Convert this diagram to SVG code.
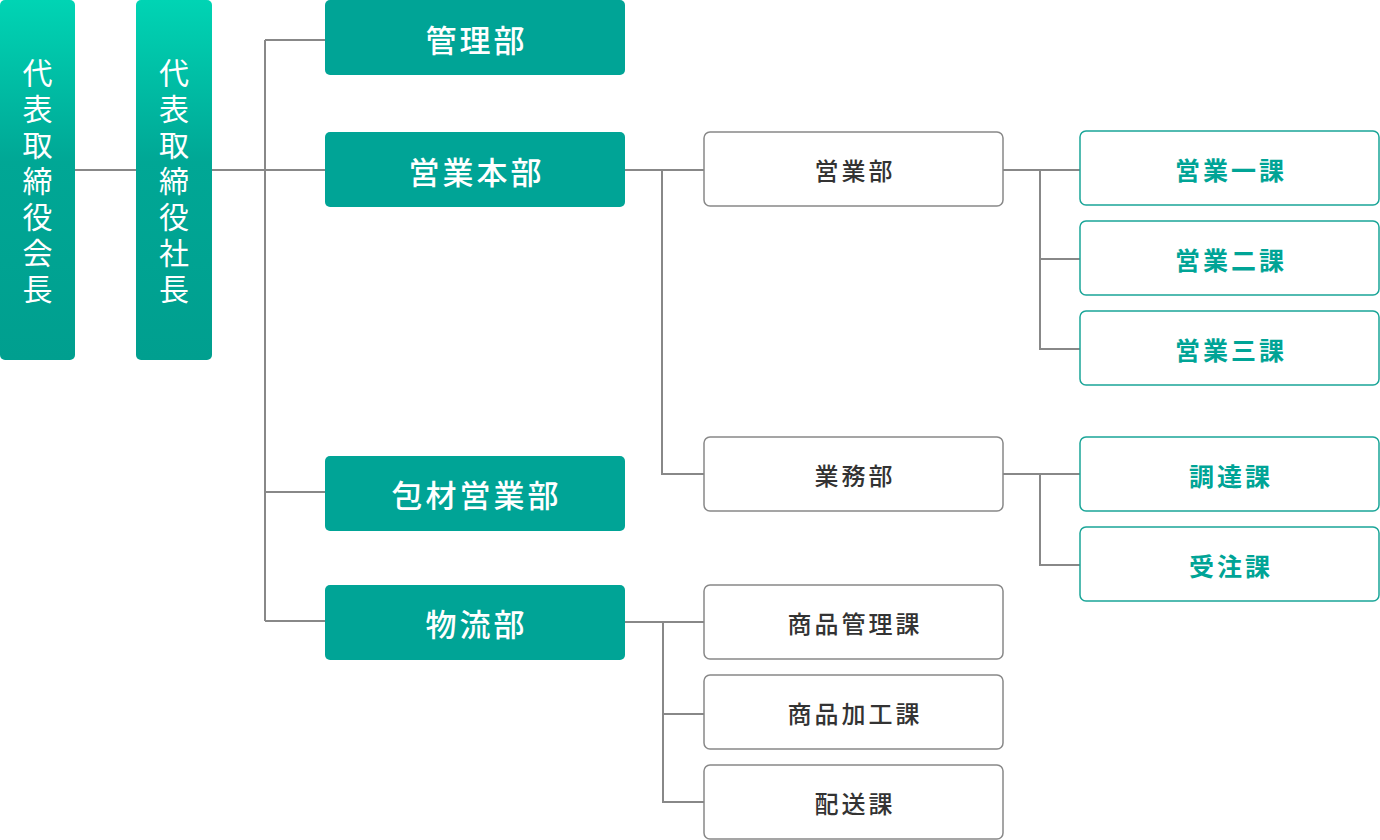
<svg xmlns="http://www.w3.org/2000/svg" width="1380" height="840" viewBox="0 0 1380 840">
<defs>
<linearGradient id="g" x1="0" y1="0" x2="0" y2="1"><stop offset="0" stop-color="#00d4b4"/><stop offset="0.45" stop-color="#00a795"/><stop offset="1" stop-color="#009f8f"/></linearGradient>
</defs>
<style>
text{font-family:"Noto Sans CJK JP","Noto Sans",sans-serif;text-anchor:middle;dominant-baseline:central}
.v{fill:url(#g)}
.vt{fill:#fff;font-size:30px;writing-mode:vertical-rl;letter-spacing:6px}
.t{fill:#00a496}
.tt{fill:#fff;font-size:31px;font-weight:500;letter-spacing:3px}
.w{fill:#fff;stroke:#888;stroke-width:1.5}
.wt{fill:#333;font-size:24px;font-weight:500;letter-spacing:3px}
.c{fill:#fff;stroke:#1aa598;stroke-width:1.5}
.ct{fill:#00a496;font-size:25px;font-weight:700;letter-spacing:3px}
.ln{fill:none;stroke:#888;stroke-width:2}
</style>
<g id="connectors" class="ln">
<path d="M75 170H136M212 170H325M265 40V621M265 40H325M265 492H325M265 621H325"/>
<path d="M625 170H704M662 170V474H704M625 622H704M663 622V802H704M663 714H704"/>
<path d="M1003 170H1080M1040 170V349H1080M1040 259H1080M1003 474H1080M1040 474V565H1080"/>
</g>
<g id="chairman"><rect class="v" x="0" y="0" width="75" height="360" rx="5"/>
<text class="vt" x="37.5" y="184">代表取締役会長</text></g>
<g id="president"><rect class="v" x="136" y="0" width="76" height="360" rx="5"/>
<text class="vt" x="174" y="184">代表取締役社長</text></g>
<g id="kanri"><rect class="t" x="325" y="0" width="300" height="75" rx="5"/><text class="tt" x="476.5" y="38">管理部</text></g>
<g id="eigyohonbu"><rect class="t" x="325" y="132" width="300" height="75" rx="5"/><text class="tt" x="476.5" y="170">営業本部</text></g>
<g id="hozai"><rect class="t" x="325" y="456" width="300" height="75" rx="5"/><text class="tt" x="476.5" y="493">包材営業部</text></g>
<g id="butsuryu"><rect class="t" x="325" y="585" width="300" height="75" rx="5"/><text class="tt" x="476.5" y="622">物流部</text></g>
<g id="eigyobu"><rect class="w" x="704" y="132" width="299" height="74" rx="6"/><text class="wt" x="855" y="169">営業部</text></g>
<g id="gyomubu"><rect class="w" x="704" y="437" width="299" height="74" rx="6"/><text class="wt" x="855" y="474">業務部</text></g>
<g id="shohinkanri"><rect class="w" x="704" y="585" width="299" height="74" rx="6"/><text class="wt" x="855" y="622">商品管理課</text></g>
<g id="shohinkako"><rect class="w" x="704" y="675" width="299" height="74" rx="6"/><text class="wt" x="855" y="712">商品加工課</text></g>
<g id="haiso"><rect class="w" x="704" y="765" width="299" height="74" rx="6"/><text class="wt" x="855" y="802">配送課</text></g>
<g id="eigyo1"><rect class="c" x="1080" y="131" width="299" height="74" rx="6"/><text class="ct" x="1231" y="169">営業一課</text></g>
<g id="eigyo2"><rect class="c" x="1080" y="221" width="299" height="74" rx="6"/><text class="ct" x="1231" y="259">営業二課</text></g>
<g id="eigyo3"><rect class="c" x="1080" y="311" width="299" height="74" rx="6"/><text class="ct" x="1231" y="349">営業三課</text></g>
<g id="chotatsu"><rect class="c" x="1080" y="437" width="299" height="74" rx="6"/><text class="ct" x="1231" y="475">調達課</text></g>
<g id="juchu"><rect class="c" x="1080" y="527" width="299" height="74" rx="6"/><text class="ct" x="1231" y="565">受注課</text></g>
</svg>
